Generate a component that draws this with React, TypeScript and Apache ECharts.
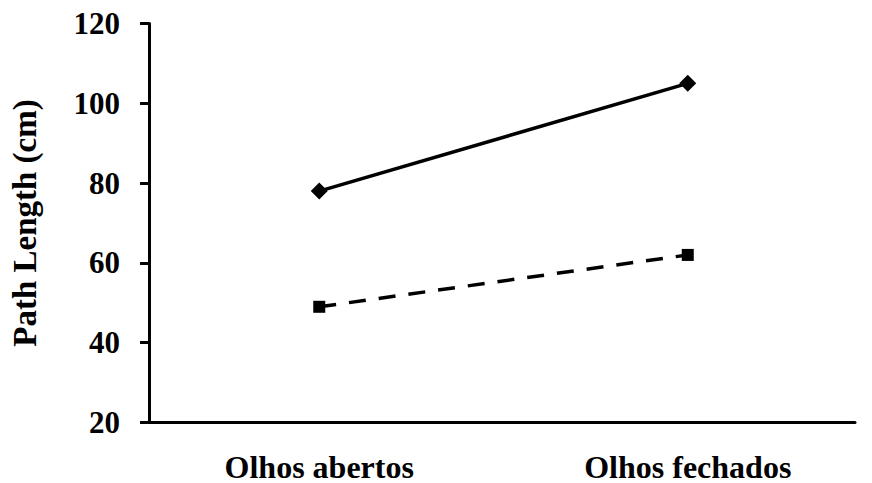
import React, { useEffect, useRef } from "react";
import * as echarts from "echarts";

const categories = ["Olhos abertos", "Olhos fechados"];
const solidSeries = [78, 105];
const dashedSeries = [49, 62];
const yMin = 20;
const yMax = 120;
const yInterval = 20;
const yName = "Path Length (cm)";

const FONT = "'Liberation Serif', 'Times New Roman', serif";

export default function App() {
  const ref = useRef<HTMLDivElement>(null);
  useEffect(() => {
    if (!ref.current) return;
    const chart = echarts.init(ref.current, undefined, { renderer: "svg" });
    const top = 23.5;
    const height = 399;
    chart.setOption({
      animation: false,
      backgroundColor: "#ffffff",
      grid: [
        { left: 137, top, width: 718, height },
        { left: 135, top, width: 748, height },
      ],
      xAxis: [
        {
          gridIndex: 0,
          type: "category",
          data: categories,
          axisLine: { show: true, lineStyle: { color: "#000", width: 3 } },
          axisTick: { show: false },
          axisLabel: { show: false },
          splitLine: { show: false },
        },
        {
          gridIndex: 1,
          type: "category",
          data: categories,
          boundaryGap: true,
          axisLine: { show: false },
          axisTick: { show: false },
          axisLabel: {
            margin: 28,
            color: "#000",
            fontFamily: FONT,
            fontWeight: "bold",
            fontSize: 32,
          },
          splitLine: { show: false },
        },
      ],
      yAxis: [
        {
          gridIndex: 0,
          type: "value",
          min: yMin,
          max: yMax,
          interval: yInterval,
          name: yName,
          nameLocation: "middle",
          nameGap: 108,
          nameRotate: 90,
          nameTextStyle: {
            color: "#000",
            fontFamily: FONT,
            fontWeight: "bold",
            fontSize: 33,
          },
          axisLine: { show: true, lineStyle: { color: "#000", width: 3 } },
          axisTick: { show: true, inside: false, length: 9, lineStyle: { color: "#000", width: 3 } },
          axisLabel: {
            margin: 29,
            color: "#000",
            fontFamily: FONT,
            fontWeight: "bold",
            fontSize: 31,
          },
          splitLine: { show: false },
        },
        {
          gridIndex: 1,
          type: "value",
          min: yMin,
          max: yMax,
          interval: yInterval,
          show: false,
          splitLine: { show: false },
        },
      ],
      series: [
        {
          type: "line",
          xAxisIndex: 1,
          yAxisIndex: 1,
          data: solidSeries,
          symbol: "diamond",
          symbolSize: 17,
          itemStyle: { color: "#000" },
          lineStyle: { color: "#000", width: 3.5 },
        },
        {
          type: "line",
          xAxisIndex: 1,
          yAxisIndex: 1,
          data: dashedSeries,
          symbol: "rect",
          symbolSize: 12,
          itemStyle: { color: "#000" },
          lineStyle: { color: "#000", width: 3.5, type: [17, 13] },
        },
      ],
    });
    return () => chart.dispose();
  }, []);
  return (
    <div
      ref={ref}
      style={{ position: "fixed", left: 0, top: 0, width: 872, height: 483, background: "#fff" }}
    />
  );
}
